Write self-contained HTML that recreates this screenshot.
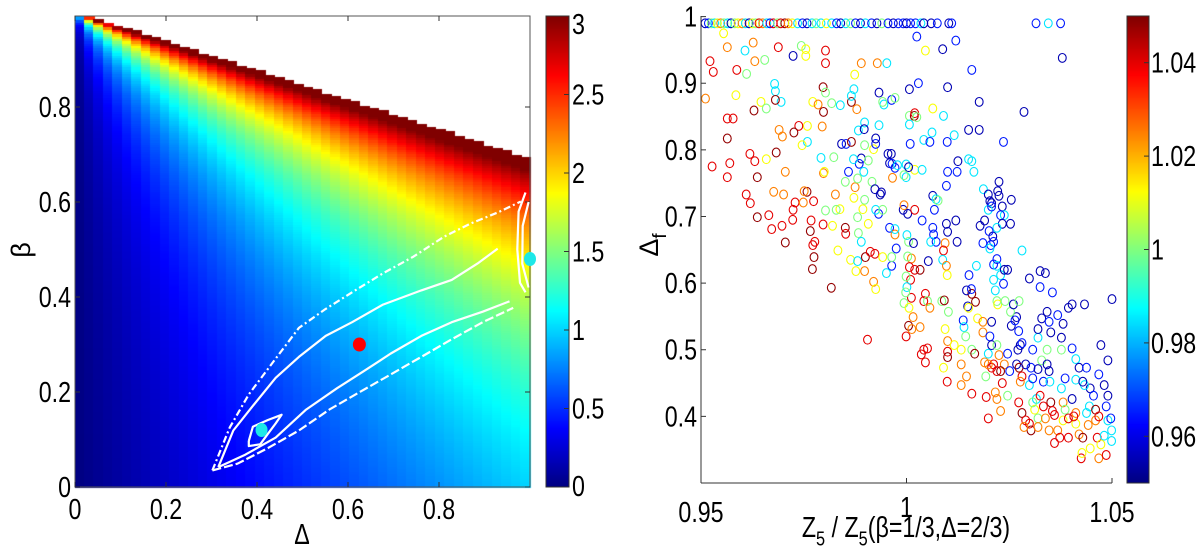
<!DOCTYPE html>
<html><head><meta charset="utf-8"><style>
html,body{margin:0;padding:0;background:#fff;}
#wrap{position:relative;width:1200px;height:549px;overflow:hidden;font-family:"Liberation Sans",sans-serif;}
canvas,svg{position:absolute;left:0;top:0;}
text{font-family:"Liberation Sans","DejaVu Sans",sans-serif;fill:#000;}
</style></head><body>
<div id="wrap">
<canvas id="cv" width="1200" height="549"></canvas>
<svg id="sv" width="1200" height="549" viewBox="0 0 1200 549"></svg>
</div>
<script>
// ---------- data ----------
const deltaGrid = []; for (let i = 0; i < 48; i++) deltaGrid.push((i + 0.5) / 48);
const betaGrid = []; for (let j = 0; j < 200; j++) betaGrid.push((j + 0.5) / 200 * 0.99);
const heatMax = 3.23;
const leftCbTicks = [0, 0.5, 1, 1.5, 2, 2.5, 3];
const leftCbLabels = ["0", "0.5", "1", "1.5", "2", "2.5", "3"];
const leftXTicks = [0, 0.2, 0.4, 0.6, 0.8];
const leftYTicks = [0, 0.2, 0.4, 0.6, 0.8];
const contourOuterUpper = [[0.302,0.035],[0.340,0.125],[0.382,0.195],[0.433,0.260],[0.492,0.335],[0.551,0.375],[0.609,0.410],[0.677,0.450],[0.744,0.485],[0.811,0.527],[0.870,0.555],[0.929,0.578],[0.980,0.601]];
const contourOuterLower = [[0.302,0.035],[0.357,0.049],[0.424,0.082],[0.492,0.119],[0.559,0.163],[0.626,0.200],[0.694,0.237],[0.761,0.274],[0.828,0.311],[0.896,0.347],[0.963,0.377]];
const contourInnerUpper = [[0.315,0.042],[0.348,0.119],[0.391,0.171],[0.441,0.230],[0.492,0.274],[0.551,0.318],[0.609,0.347],[0.677,0.384],[0.761,0.414],[0.828,0.436],[0.887,0.472],[0.929,0.502]];
const contourInnerLower = [[0.315,0.042],[0.374,0.068],[0.441,0.104],[0.508,0.163],[0.576,0.208],[0.635,0.244],[0.694,0.281],[0.761,0.318],[0.828,0.347],[0.896,0.369],[0.955,0.391]];
const contourSmall = [[0.382,0.097],[0.391,0.127],[0.424,0.141],[0.454,0.152],[0.441,0.134],[0.424,0.112],[0.407,0.090],[0.382,0.086],[0.382,0.097]];
const contourEdgeA = [[0.99,0.62],[0.975,0.58],[0.972,0.50],[0.978,0.43],[0.99,0.41]];
const contourEdgeB = [[0.997,0.60],[0.984,0.55],[0.983,0.47],[0.997,0.42]];
const markerRed = [0.625, 0.30];
const markersCyan = [[0.41, 0.12], [1.0, 0.48]];

const rightXTicks = [0.95, 1, 1.05];
const rightXLabels = ["0.95", "1", "1.05"];
const rightYTicks = [0.4, 0.5, 0.6, 0.7, 0.8, 0.9, 1];
const rightYLabels = ["0.4", "0.5", "0.6", "0.7", "0.8", "0.9", "1"];
const rightCbTicks = [0.96, 0.98, 1, 1.02, 1.04];
const rightCbLabels = ["0.96", "0.98", "1", "1.02", "1.04"];
const colorCodes = {dr:1.048, r:1.04, o:1.025, y:1.012, g:1.0, c:0.985, lb:0.975, b:0.965, db:0.955};
const topRowY = 0.99;
const topRowX = [0.9510,0.9518,0.9525,0.9533,0.9540,0.9548,0.9556,0.9565,0.9573,0.9582,0.9590,0.9600,0.9608,0.9617,0.9625,0.9633,0.9641,0.9650,0.9660,0.9668,0.9676,0.9686,0.9694,0.9704,0.9712,0.9722,0.9735,0.9747,0.9758,0.9770,0.9780,0.9792,0.9805,0.9818,0.9830,0.9840,0.9852,0.9864,0.9876,0.9888,0.9900,0.9915,0.9928,0.9940,0.9955,0.9968,0.9980,0.9992,1.0000,1.0010,1.0022,1.0035,1.0042,1.0060,1.0075,1.0103,1.0110,1.0315,1.0345,1.0375];
const topRowC = "db b g c y o g c db g y o c db y g r o c b r g r dr o y c b db c g c y c b db c g b db c b db g b db b b db b b c db db b db b b c b".split(" ");
const scatterPts = [
[0.9555,0.975,"y"],[0.9564,0.954,"o"],[0.9522,0.933,"r"],[0.9530,0.917,"r"],[0.9511,0.877,"o"],[0.9585,0.882,"y"],[0.9587,0.920,"r"],[0.9607,0.949,"c"],[0.9627,0.961,"o"],[0.9611,0.914,"g"],
[0.9631,0.933,"o"],[0.9655,0.935,"g"],[0.9688,0.954,"r"],[0.9679,0.899,"c"],[0.9681,0.888,"c"],[0.9695,0.872,"c"],[0.9681,0.875,"dr"],[0.9646,0.872,"y"],[0.9659,0.862,"g"],[0.9629,0.859,"dr"],
[0.9564,0.847,"r"],[0.9578,0.847,"r"],[0.9564,0.817,"dr"],[0.9527,0.775,"r"],[0.9564,0.759,"r"],[0.9570,0.780,"r"],[0.9619,0.794,"r"],[0.9631,0.783,"r"],[0.9637,0.759,"dr"],[0.9659,0.786,"y"],
[0.9683,0.796,"dr"],[0.9698,0.820,"o"],[0.9690,0.830,"o"],[0.9705,0.767,"o"],[0.9677,0.737,"o"],[0.9701,0.733,"o"],[0.9610,0.733,"r"],[0.9620,0.720,"r"],[0.9637,0.699,"dr"],[0.9665,0.702,"r"],
[0.9672,0.681,"r"],[0.9697,0.686,"r"],[0.9705,0.661,"dr"],[0.9724,0.710,"r"],[0.9729,0.721,"r"],[0.9723,0.695,"r"],[0.9758,0.737,"dr"],[0.9751,0.738,"o"],[0.9749,0.721,"o"],[0.9774,0.723,"r"],
[0.9768,0.694,"r"],[0.9797,0.688,"r"],[0.9766,0.678,"dr"],[0.9777,0.662,"r"],[0.9772,0.657,"r"],[0.9775,0.639,"dr"],[0.9771,0.621,"dr"],[0.9817,0.593,"dr"],[0.9759,0.836,"y"],[0.9738,0.836,"r"],
[0.9726,0.826,"dr"],[0.9759,0.812,"c"],[0.9746,0.807,"y"],[0.9772,0.872,"y"],[0.9785,0.868,"o"],[0.9797,0.894,"dr"],[0.9803,0.886,"g"],[0.9818,0.870,"g"],[0.9839,0.867,"c"],[0.9798,0.857,"dr"],
[0.9795,0.835,"o"],[0.9798,0.765,"o"],[0.9792,0.788,"c"],[0.9823,0.789,"g"],[0.9800,0.767,"y"],[0.9827,0.733,"o"],[0.9838,0.711,"y"],[0.9829,0.710,"g"],[0.9803,0.709,"g"],[0.9820,0.686,"y"],
[0.9833,0.649,"y"],[0.9851,0.683,"dr"],[0.9852,0.674,"r"],[0.9864,0.635,"y"],[0.9842,0.809,"db"],[0.9853,0.809,"b"],[0.9866,0.812,"dr"],[0.9866,0.872,"dr"],[0.9866,0.881,"c"],[0.9872,0.891,"c"],
[0.9879,0.861,"o"],[0.9859,0.767,"b"],[0.9875,0.744,"o"],[0.9872,0.728,"y"],[0.9851,0.752,"g"],[0.9890,0.787,"db"],[0.9885,0.779,"b"],[0.9896,0.767,"c"],[0.9871,0.786,"c"],[0.9881,0.757,"g"],
[0.9898,0.725,"g"],[0.9881,0.699,"g"],[0.9883,0.675,"g"],[0.9907,0.689,"y"],[0.9894,0.711,"y"],[0.9890,0.662,"c"],[0.9877,0.618,"y"],[0.9881,0.633,"c"],[0.9900,0.639,"dr"],[0.9912,0.647,"r"],
[0.9923,0.644,"r"],[0.9898,0.618,"o"],[0.9905,0.515,"r"],[0.9920,0.602,"o"],[0.9925,0.591,"y"],[0.9898,0.841,"c"],[0.9883,0.829,"c"],[0.9897,0.831,"db"],[0.9898,0.807,"g"],[0.9920,0.801,"y"],
[0.9925,0.809,"b"],[0.9925,0.817,"db"],[0.9907,0.784,"g"],[0.9916,0.752,"g"],[0.9923,0.741,"db"],[0.9936,0.733,"db"],[0.9932,0.704,"b"],[0.9925,0.710,"c"],[0.9939,0.736,"db"],[0.9942,0.710,"g"],
[0.9933,0.886,"db"],[0.9945,0.868,"c"],[0.9964,0.875,"b"],[0.9972,0.878,"g"],[0.9955,0.794,"db"],[0.9963,0.794,"db"],[0.9959,0.780,"db"],[0.9965,0.779,"b"],[0.9972,0.773,"b"],[0.9978,0.777,"c"],
[0.9966,0.758,"o"],[0.9933,0.837,"c"],[0.9942,0.872,"g"],[0.9959,0.683,"b"],[0.9975,0.652,"b"],[0.9972,0.673,"o"],[0.9964,0.626,"b"],[0.9951,0.615,"c"],[0.9942,0.639,"y"],[0.9964,0.639,"g"],
[0.9972,0.681,"c"],[0.9992,0.710,"db"],[1.0003,0.704,"db"],[0.9994,0.717,"o"],[1.0020,0.710,"r"],[1.0001,0.672,"c"],[1.0005,0.662,"g"],[1.0012,0.637,"o"],[1.0007,0.624,"r"],[1.0010,0.605,"r"],
[1.0012,0.578,"r"],[1.0017,0.660,"db"],[1.0003,0.640,"g"],[1.0020,0.620,"r"],[0.9999,0.610,"g"],[1.0001,0.594,"c"],[0.9998,0.586,"g"],[0.9994,0.570,"g"],[1.0006,0.563,"y"],[0.9999,0.520,"r"],
[1.0005,0.536,"dr"],[1.0013,0.531,"o"],[1.0016,0.549,"o"],[1.0007,0.851,"g"],[1.0019,0.851,"dr"],[1.0020,0.855,"r"],[1.0007,0.838,"c"],[1.0009,0.809,"b"],[1.0025,0.849,"g"],[1.0007,0.891,"db"],
[1.0029,0.900,"b"],[0.9999,0.778,"c"],[1.0020,0.770,"y"],[0.9999,0.759,"c"],[1.0005,0.774,"db"],[0.9994,0.762,"g"],[1.0038,0.770,"c"],[1.0038,0.694,"b"],[1.0033,0.620,"dr"],[1.0046,0.584,"r"],
[1.0042,0.573,"r"],[1.0051,0.502,"r"],[1.0046,0.481,"r"],[1.0042,0.500,"r"],[1.0033,0.534,"o"],[1.0036,0.493,"r"],[1.0051,0.573,"g"],[1.0057,0.563,"o"],[1.0042,0.815,"c"],[1.0057,0.812,"b"],
[1.0062,0.826,"c"],[1.0064,0.862,"y"],[1.0064,0.731,"db"],[1.0064,0.683,"b"],[1.0066,0.673,"b"],[1.0072,0.662,"b"],[1.0053,0.633,"db"],[1.0059,0.662,"c"],[1.0068,0.710,"b"],[1.0072,0.726,"c"],
[1.0077,0.724,"g"],[1.0090,0.851,"c"],[1.0100,0.894,"db"],[1.0099,0.812,"b"],[1.0100,0.767,"b"],[1.0097,0.746,"b"],[1.0097,0.689,"db"],[1.0100,0.677,"db"],[1.0094,0.660,"o"],[1.0090,0.649,"r"],
[1.0088,0.635,"c"],[1.0097,0.626,"o"],[1.0099,0.612,"y"],[1.0086,0.573,"g"],[1.0092,0.574,"dr"],[1.0102,0.557,"g"],[1.0094,0.531,"y"],[1.0100,0.513,"o"],[1.0100,0.497,"r"],[1.0100,0.489,"dr"],
[1.0116,0.507,"y"],[1.0090,0.473,"y"],[1.0099,0.452,"r"],[1.0116,0.822,"c"],[1.0123,0.767,"b"],[1.0125,0.783,"db"],[1.0120,0.694,"db"],[1.0123,0.662,"db"],[1.0138,0.544,"b"],[1.0149,0.565,"db"],
[1.0159,0.584,"dr"],[1.0158,0.591,"b"],[1.0168,0.572,"dr"],[1.0173,0.547,"y"],[1.0151,0.563,"y"],[1.0140,0.534,"c"],[1.0144,0.520,"g"],[1.0133,0.500,"y"],[1.0133,0.478,"o"],[1.0133,0.447,"o"],
[1.0146,0.460,"o"],[1.0159,0.500,"g"],[1.0166,0.494,"dr"],[1.0186,0.526,"o"],[1.0186,0.542,"o"],[1.0190,0.481,"o"],[1.0159,0.434,"r"],[1.0151,0.830,"db"],[1.0151,0.786,"c"],[1.0159,0.783,"c"],
[1.0164,0.767,"c"],[1.0177,0.830,"db"],[1.0177,0.872,"db"],[1.0159,0.920,"b"],[1.0187,0.741,"c"],[1.0199,0.733,"db"],[1.0203,0.723,"db"],[1.0207,0.720,"db"],[1.0210,0.670,"db"],[1.0205,0.657,"b"],
[1.0212,0.628,"b"],[1.0225,0.752,"db"],[1.0222,0.738,"db"],[1.0225,0.731,"db"],[1.0233,0.715,"db"],[1.0238,0.702,"c"],[1.0229,0.702,"b"],[1.0255,0.725,"db"],[1.0233,0.689,"db"],[1.0220,0.626,"c"],
[1.0229,0.612,"c"],[1.0238,0.620,"db"],[1.0246,0.620,"db"],[1.0236,0.812,"b"],[1.0212,0.662,"b"],[1.0212,0.605,"c"],[1.0220,0.573,"g"],[1.0216,0.589,"c"],[1.0222,0.568,"y"],[1.0207,0.542,"db"],
[1.0203,0.520,"b"],[1.0199,0.494,"c"],[1.0207,0.507,"db"],[1.0220,0.507,"g"],[1.0225,0.492,"o"],[1.0212,0.478,"r"],[1.0207,0.473,"r"],[1.0220,0.468,"r"],[1.0238,0.478,"o"],[1.0229,0.468,"dr"],
[1.0199,0.478,"o"],[1.0193,0.460,"g"],[1.0194,0.429,"r"],[1.0199,0.397,"r"],[1.0216,0.436,"o"],[1.0220,0.426,"o"],[1.0233,0.450,"r"],[1.0229,0.408,"o"],[1.0246,0.431,"g"],[1.0251,0.468,"b"],
[1.0255,0.536,"db"],[1.0264,0.544,"b"],[1.0268,0.549,"db"],[1.0273,0.528,"b"],[1.0271,0.500,"db"],[1.0277,0.507,"db"],[1.0246,0.494,"b"],[1.0240,0.573,"g"],[1.0253,0.557,"g"],[1.0260,0.568,"db"],
[1.0274,0.573,"g"],[1.0281,0.510,"b"],[1.0268,0.478,"db"],[1.0274,0.473,"dr"],[1.0281,0.460,"r"],[1.0277,0.452,"o"],[1.0273,0.421,"r"],[1.0281,0.405,"dr"],[1.0290,0.394,"r"],[1.0299,0.389,"r"],
[1.0303,0.379,"dr"],[1.0286,0.384,"o"],[1.0312,0.410,"y"],[1.0316,0.426,"c"],[1.0307,0.421,"g"],[1.0320,0.397,"g"],[1.0299,0.447,"c"],[1.0290,0.478,"db"],[1.0303,0.473,"b"],[1.0307,0.500,"b"],
[1.0307,0.457,"b"],[1.0320,0.471,"db"],[1.0329,0.484,"g"],[1.0333,0.452,"b"],[1.0320,0.518,"c"],[1.0320,0.531,"db"],[1.0325,0.618,"db"],[1.0299,0.607,"db"],[1.0338,0.615,"db"],[1.0325,0.594,"b"],
[1.0329,0.547,"db"],[1.0342,0.557,"db"],[1.0347,0.542,"b"],[1.0351,0.526,"db"],[1.0355,0.586,"b"],[1.0342,0.500,"g"],[1.0342,0.478,"db"],[1.0347,0.468,"db"],[1.0349,0.452,"c"],[1.0351,0.421,"dr"],
[1.0355,0.408,"r"],[1.0360,0.402,"r"],[1.0325,0.431,"r"],[1.0333,0.415,"r"],[1.0338,0.397,"o"],[1.0320,0.384,"o"],[1.0347,0.379,"o"],[1.0360,0.360,"r"],[1.0368,0.379,"o"],[1.0377,0.442,"c"],
[1.0381,0.421,"o"],[1.0386,0.410,"g"],[1.0381,0.394,"y"],[1.0373,0.368,"r"],[1.0394,0.368,"r"],[1.0394,0.397,"r"],[1.0386,0.457,"b"],[1.0377,0.500,"g"],[1.0377,0.518,"db"],[1.0381,0.539,"db"],
[1.0368,0.552,"b"],[1.0394,0.563,"db"],[1.0403,0.568,"db"],[1.0433,0.568,"db"],[1.0403,0.502,"b"],[1.0412,0.486,"c"],[1.0420,0.473,"db"],[1.0412,0.455,"c"],[1.0403,0.426,"db"],[1.0412,0.405,"o"],
[1.0412,0.389,"y"],[1.0407,0.400,"r"],[1.0420,0.373,"o"],[1.0429,0.368,"dr"],[1.0425,0.337,"r"],[1.0427,0.345,"y"],[1.0442,0.387,"o"],[1.0445,0.415,"c"],[1.0447,0.442,"db"],[1.0455,0.431,"b"],
[1.0460,0.410,"dr"],[1.0460,0.394,"o"],[1.0468,0.400,"r"],[1.0464,0.368,"r"],[1.0468,0.337,"o"],[1.0473,0.358,"y"],[1.0481,0.371,"c"],[1.0490,0.394,"c"],[1.0486,0.415,"b"],[1.0490,0.431,"db"],
[1.0490,0.484,"db"],[1.0473,0.507,"db"],[1.0468,0.463,"b"],[1.0481,0.447,"db"],[1.0500,0.576,"db"],[1.0497,0.397,"b"],[1.0499,0.379,"c"],[1.0486,0.342,"r"],[1.0499,0.363,"c"],[1.0438,0.473,"b"],
[1.0433,0.447,"c"],[1.0447,0.352,"y"],[1.0429,0.452,"db"],[1.0438,0.405,"c"],[1.0379,0.938,"db"],[1.0286,0.857,"db"],[1.0236,0.599,"b"],[1.0281,0.649,"c"],[1.0253,0.689,"db"],[1.0190,0.694,"db"],
[1.0199,0.710,"c"],[1.0207,0.715,"b"],[1.0220,0.683,"c"],[1.0201,0.678,"b"],[1.0179,0.686,"db"],[1.0170,0.626,"c"],[1.0152,0.612,"b"],[1.0146,0.589,"db"],[1.0186,0.660,"b"],[1.0203,0.652,"c"],
[1.0088,0.951,"db"],[1.0120,0.964,"b"],[1.0025,0.970,"b"],[1.0220,0.636,"b"],[0.9724,0.941,"db"],[0.9744,0.956,"g"],[0.9755,0.951,"y"],[0.9755,0.941,"y"],[0.9803,0.949,"r"],[0.9803,0.930,"r"],
[0.9874,0.913,"y"],[0.9890,0.930,"o"],[0.9929,0.930,"o"],[0.9952,0.930,"c"],[1.0046,0.949,"y"]
];

// ---------- helpers ----------
function jet(t){t=Math.max(0,Math.min(1,t));const c=v=>Math.round(255*Math.max(0,Math.min(1,v)));
 return "rgb("+c(1.5-Math.abs(4*t-3))+","+c(1.5-Math.abs(4*t-2))+","+c(1.5-Math.abs(4*t-1))+")";}
const NS="http://www.w3.org/2000/svg";
const svg=document.getElementById("sv");
function el(tag,attrs,parent){const e=document.createElementNS(NS,tag);for(const k in attrs)e.setAttribute(k,attrs[k]);(parent||svg).appendChild(e);return e;}
function txt(s,x,y,size,anchor,parent){const t=el("text",{x:0,y:0,"font-size":size,"text-anchor":anchor||"middle",transform:"translate("+x+","+y+") scale(0.86,1.05)"},parent);t.textContent=s;return t;}

// ---------- left axes ----------
const L={x0:75,x1:530,y0:487,y1:12};
const lx=d=>L.x0+d*(L.x1-L.x0);
const ly=b=>L.y0-b*(L.y0-L.y1);
const ctx=document.getElementById("cv").getContext("2d");
const cw=(L.x1-L.x0)/deltaGrid.length;
const bh=(betaGrid[1]-betaGrid[0])*(L.y0-L.y1);
for(const d of deltaGrid){for(const b of betaGrid){const v=d/(1-b);if(v>heatMax)continue;
 ctx.fillStyle=jet(Math.min(v,3)/3);ctx.fillRect(Math.floor(lx(d)-cw/2),Math.floor(ly(b)-bh/2),Math.ceil(cw)+1,Math.ceil(bh)+1);}}
for(let p=16;p<487;p++){ctx.fillStyle=jet((487-p)/471);ctx.fillRect(546,p,23,1);}
for(let p=16;p<483;p++){ctx.fillStyle=jet((483-p)/467);ctx.fillRect(1127,p,22,1);}

const gL=el("g",{});
el("rect",{x:L.x0,y:16,width:L.x1-L.x0,height:L.y0-16,fill:"none",stroke:"#555","stroke-width":1},gL);
const gLx=el("g",{},gL);
leftXTicks.forEach(v=>{const x=lx(v);el("line",{x1:x,y1:L.y0,x2:x,y2:L.y0-5,stroke:"#333"},gLx);el("line",{x1:x,y1:16,x2:x,y2:21,stroke:"#333"},gLx);
 const t=txt(String(v),x,519,27,"middle",gLx);});
const gLy=el("g",{},gL);
leftYTicks.forEach(v=>{const y=ly(v);el("line",{x1:L.x0,y1:y,x2:L.x0+5,y2:y,stroke:"#333"},gLy);el("line",{x1:L.x1,y1:y,x2:L.x1-5,y2:y,stroke:"#333"},gLy);
 const t=txt(String(v),71,y+10,27,"end",gLy);});
const xl=txt("Δ",302,544,27,"middle",gL);
const yl=el("text",{x:0,y:0,"font-size":27,"text-anchor":"middle",transform:"translate(30,250) rotate(-90)"},gL);yl.textContent="β";

const gC=el("g",{fill:"none",stroke:"#fff","stroke-width":2.2,"stroke-linejoin":"round"},gL);
function poly(arr,name,dash){const p=el("polyline",{points:arr.map(q=>lx(q[0]).toFixed(1)+","+ly(q[1]).toFixed(1)).join(" ")},gC);
 if(dash)p.setAttribute("stroke-dasharray",dash);}
poly(contourOuterUpper,"contour-outer-upper","7 3 2 3");
poly(contourOuterLower,"contour-outer-lower","9 3");
poly(contourInnerUpper,"contour-inner-upper");
poly(contourInnerLower,"contour-inner-lower");
poly(contourSmall,"contour-small-loop");
poly(contourEdgeA,"contour-edge-a");
poly(contourEdgeB,"contour-edge-b");
const mr=el("ellipse",{cx:lx(markerRed[0]),cy:ly(markerRed[1]),rx:6.5,ry:7,fill:"#f00"},gL);

markersCyan.forEach(m=>{const c=el("ellipse",{cx:lx(m[0]),cy:ly(m[1]),rx:6,ry:7,fill:"#1de8e8"},gL);
 });
const gLcb=el("g",{});
el("rect",{x:546,y:16,width:23,height:471,fill:"none",stroke:"#333"},gLcb);
leftCbTicks.forEach((v,i)=>{const y=487-v/3*471;el("line",{x1:564,y1:y,x2:569,y2:y,stroke:"#333"},gLcb);
 const t=txt(leftCbLabels[i],572,Math.min(Math.max(y+10,34),496),27,"start",gLcb);});

// ---------- right axes ----------
const R={x0:701,x1:1112,y0:483,y1:16.6};
const rx=v=>R.x0+(v-0.95)/0.1*(R.x1-R.x0);
const ry=v=>R.y0-(v-0.3)/0.7*(R.y0-R.y1);
const cbv=v=>(v-0.95)/0.1;
const gR=el("g",{});
const gS=el("g",{fill:"none","stroke-width":1.1},gR);
topRowX.forEach((x,i)=>{const c=el("ellipse",{cx:rx(x).toFixed(1),cy:ry(topRowY).toFixed(1),rx:3.9,ry:4.4,stroke:jet(cbv(colorCodes[topRowC[i]]))},gS);
 });
scatterPts.forEach(p=>{const c=el("ellipse",{cx:rx(p[0]).toFixed(1),cy:ry(p[1]).toFixed(1),rx:3.9,ry:4.4,stroke:jet(cbv(colorCodes[p[2]]))},gS);
 });
const gRx=el("g",{},gR);
el("line",{x1:R.x0,y1:R.y0,x2:R.x1,y2:R.y0,stroke:"#333"},gRx);
rightXTicks.forEach((v,i)=>{const x=rx(v);el("line",{x1:x,y1:R.y0,x2:x,y2:R.y0-5,stroke:"#333"},gRx);
 const t=txt(rightXLabels[i],x,i==1?517:522,27,"middle",gRx);});
const gRy=el("g",{},gR);
el("line",{x1:R.x0,y1:R.y0,x2:R.x0,y2:16,stroke:"#333"},gRy);
rightYTicks.forEach((v,i)=>{const y=ry(v);el("line",{x1:R.x0,y1:y,x2:R.x0+5,y2:y,stroke:"#333"},gRy);
 const t=txt(rightYLabels[i],697,y+10,27,"end",gRy);});
const rxt=el("text",{x:0,y:0,"font-size":27,"text-anchor":"middle",transform:"translate(906,537) scale(0.86,1.05)"},gR);

rxt.innerHTML='Z<tspan font-size="19" dy="8">5</tspan><tspan dy="-8"> / Z</tspan><tspan font-size="19" dy="8">5</tspan><tspan dy="-8">(β=1/3,Δ=2/3)</tspan>';
const ryt=el("text",{x:0,y:0,"font-size":27,"text-anchor":"middle",transform:"translate(658,245) rotate(-90)"},gR);

ryt.innerHTML='Δ<tspan font-size="19" dy="8">f</tspan>';
const gRcb=el("g",{});
el("rect",{x:1127,y:16,width:22,height:467,fill:"none",stroke:"#333"},gRcb);
rightCbTicks.forEach((v,i)=>{const y=483-cbv(v)*467;el("line",{x1:1144,y1:y,x2:1149,y2:y,stroke:"#333"},gRcb);
 const t=txt(rightCbLabels[i],1151,y+10,27,"start",gRcb);});
</script>
</body></html>
